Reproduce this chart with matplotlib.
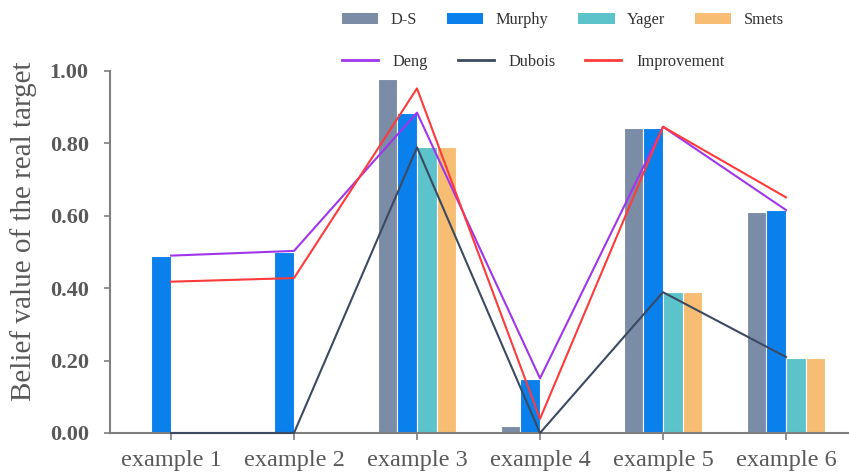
import matplotlib
matplotlib.use("Agg")
import matplotlib.pyplot as plt
import numpy as np
from matplotlib.patches import Patch
from matplotlib.lines import Line2D

categories = ["example 1", "example 2", "example 3", "example 4", "example 5", "example 6"]
ds = [0.0, 0.0, 0.978, 0.02, 0.842, 0.61]
murphy = [0.49, 0.50, 0.885, 0.149, 0.842, 0.616]
yager = [0.0, 0.0, 0.789, 0.0, 0.389, 0.208]
smets = [0.0, 0.0, 0.789, 0.0, 0.389, 0.208]
deng = [0.49, 0.503, 0.885, 0.151, 0.846, 0.616]
dubois = [0.0, 0.0, 0.789, 0.0, 0.389, 0.21]
improvement = [0.418, 0.428, 0.952, 0.039, 0.846, 0.651]
yticks = [0.0, 0.2, 0.4, 0.6, 0.8, 1.0]

plt.rcParams['font.family'] = ['Liberation Serif', 'DejaVu Serif']

fig = plt.figure(figsize=(8.49, 4.74), dpi=100)
ax = fig.add_axes([109.5/849, 1-433/474, (847.5-109.5)/849, (433-71)/474])

x = np.arange(len(categories))
w = 0.16
bar_series = [("D-S", ds, "#7A8CA6"), ("Murphy", murphy, "#0A80EC"),
              ("Yager", yager, "#5CC3CB"), ("Smets", smets, "#F7BE73")]
for i, (name, vals, col) in enumerate(bar_series):
    ax.bar(x + (i - 1.5) * w, vals, width=w, color=col, edgecolor="white", linewidth=0.8, zorder=2)

line_series = [("Deng", deng, "#A035EE"), ("Dubois", dubois, "#3B4A61"),
               ("Improvement", improvement, "#FF3A3A")]
for name, vals, col in line_series:
    ax.plot(x, vals, color=col, linewidth=1.5, zorder=3, clip_on=False)

ax.set_xlim(-0.5, 5.5)
ax.set_ylim(0, 1.0)
ax.set_yticks(yticks)
ax.set_yticklabels([f"{v:.2f}" for v in yticks], fontweight="bold", fontsize=16, color="#595959")
ax.set_xticks(x)
ax.set_xticklabels(categories, fontsize=17.5, color="#595959")
for s in ["top", "right"]:
    ax.spines[s].set_visible(False)
for s in ["left", "bottom"]:
    ax.spines[s].set_color("#7F7F7F")
    ax.spines[s].set_linewidth(1.5)
ax.tick_params(axis="y", length=4, width=1.2, color="#7F7F7F", pad=11)
ax.tick_params(axis="x", length=5, width=1.2, color="#7F7F7F", pad=7)
ax.set_ylabel("Belief value of the real target", fontsize=21, color="#595959")
ax.yaxis.set_label_coords(-(109.5 - 37) / 738, (433 - 231) / 362)

bar_handles = [Patch(facecolor=c, edgecolor="none") for _, _, c in bar_series]
leg1 = fig.legend(bar_handles, [n for n, _, _ in bar_series], ncol=4, frameon=False,
                  loc="center left", bbox_to_anchor=(342/849, 1-20/474),
                  fontsize=11.8, handlelength=2.2, handleheight=0.7, handletextpad=0.75,
                  columnspacing=1.85, borderpad=0, borderaxespad=0, labelcolor="#333333")
line_handles = [Line2D([0], [0], color=c, linewidth=2) for _, _, c in line_series]
leg2 = fig.legend(line_handles, [n for n, _, _ in line_series], ncol=3, frameon=False,
                  loc="center left", bbox_to_anchor=(342/849, 1-62/474),
                  fontsize=11.8, handlelength=2.2, handletextpad=0.9,
                  columnspacing=1.8, borderpad=0, borderaxespad=0, labelcolor="#333333")

fig.savefig("out.png", dpi=100)
